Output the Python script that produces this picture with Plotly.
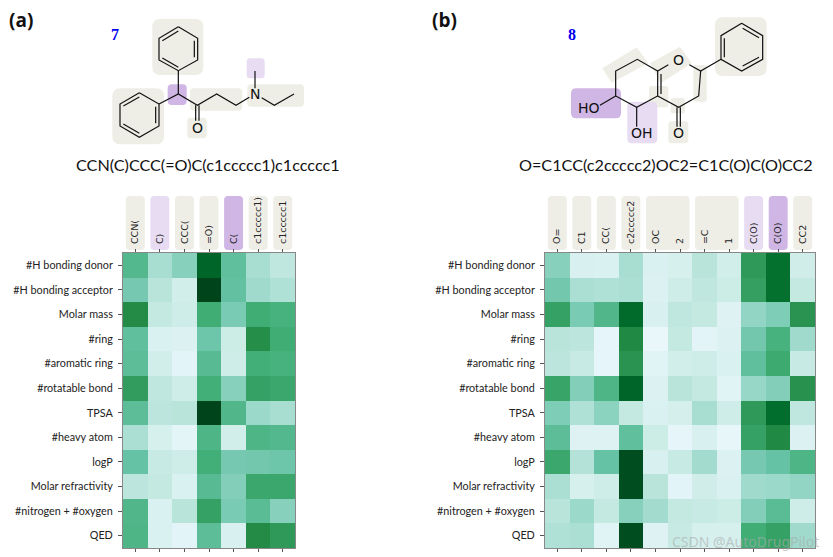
import plotly.graph_objects as go

descriptors = ["#H bonding donor", "#H bonding acceptor", "Molar mass", "#ring", "#aromatic ring",
               "#rotatable bond", "TPSA", "#heavy atom", "logP", "Molar refractivity",
               "#nitrogen + #oxygen", "QED"]
tokens_a = ["CCN(", "C)", "CCC(", "=O)", "C(", "c1ccccc1)", "c1ccccc1"]
tokens_b = ["O=", "C1", "CC(", "c2ccccc2", "OC", "2", "=C", "1", "C(O)", "C(O)", "CC2"]

values_a = [
    [.56, .34, .42, .90, .52, .34, .28],
    [.46, .30, .22, 1.0, .51, .36, .32],
    [.75, .27, .24, .63, .45, .63, .60],
    [.52, .18, .17, .48, .25, .74, .63],
    [.53, .22, .14, .55, .24, .62, .60],
    [.69, .28, .24, .62, .42, .67, .65],
    [.53, .29, .30, 1.0, .57, .37, .34],
    [.33, .20, .13, .58, .22, .58, .56],
    [.50, .26, .24, .62, .46, .47, .48],
    [.29, .27, .18, .55, .43, .65, .65],
    [.57, .18, .30, .67, .45, .54, .42],
    [.58, .18, .14, .53, .19, .75, .70],
]
values_b = [
    [.42, .19, .18, .34, .18, .20, .30, .22, .70, .86, .23],
    [.47, .33, .32, .33, .17, .24, .28, .25, .68, .86, .27],
    [.67, .45, .57, .88, .19, .28, .27, .16, .39, .44, .72],
    [.30, .29, .12, .76, .10, .27, .14, .17, .47, .60, .36],
    [.29, .26, .12, .72, .15, .22, .24, .18, .52, .64, .26],
    [.66, .43, .58, .90, .17, .30, .27, .15, .38, .43, .73],
    [.44, .32, .41, .27, .18, .21, .34, .24, .70, .87, .28],
    [.53, .16, .16, .52, .25, .12, .19, .11, .67, .76, .17],
    [.65, .31, .50, .97, .19, .26, .35, .17, .46, .50, .58],
    [.33, .20, .24, .97, .30, .14, .23, .18, .36, .37, .39],
    [.30, .37, .27, .42, .35, .27, .26, .25, .43, .54, .24],
    [.32, .33, .15, .97, .16, .26, .20, .20, .63, .67, .36],
]

GREY, LILAC, PURPLE = "#eeeee6", "#e8dcf3", "#cfb6e4"

# token-label backgrounds: first column, last column, colour
label_boxes_a = [(0, 0, GREY), (1, 1, LILAC), (2, 2, GREY), (3, 3, GREY), (4, 4, PURPLE), (5, 5, GREY), (6, 6, GREY)]
label_boxes_b = [(0, 0, GREY), (1, 1, GREY), (2, 2, GREY), (3, 3, GREY), (4, 5, GREY), (6, 7, GREY),
                 (8, 8, LILAC), (9, 9, PURPLE), (10, 10, GREY)]

# structure drawings, sketch coordinates (3 units per screen pixel)
bonds_a = [
    [(535, 80), (593, 115), (593, 180), (535, 212), (477, 180), (477, 115), (535, 80)],
    [(487, 122), (535, 93)], [(583, 122), (583, 172)], [(487, 174), (535, 202)],
    [(418, 278), (477, 312), (477, 378), (418, 412), (360, 378), (360, 312), (418, 278)],
    [(370, 318), (418, 291)], [(467, 320), (467, 370)], [(370, 372), (418, 400)],
    [(535, 212), (535, 282)], [(477, 312), (535, 282), (592, 316), (650, 282), (708, 316), (748, 292)],
    [(587, 316), (587, 362)], [(597, 316), (597, 362)],
    [(765, 265), (765, 213)], [(785, 293), (823, 316), (882, 282)],
]
bonds_b = [
    [(965, 70), (1028, 107), (1028, 178), (965, 213), (903, 178), (903, 107), (965, 70)],
    [(968, 85), (1017, 113)], [(1017, 172), (968, 198)], [(913, 115), (913, 172)],
    [(903, 178), (842, 213), (808, 194)], [(745, 194), (713, 213), (652, 178), (587, 213), (587, 288),
                                           (650, 322), (713, 288), (713, 213)],
    [(723, 222), (723, 282)], [(713, 288), (776, 322), (836, 288), (842, 213)],
    [(771, 322), (771, 380)], [(781, 322), (781, 380)],
    [(587, 288), (540, 316)], [(650, 322), (650, 380)],
]
atoms_a = [("O", 592, 383), ("N", 765, 283)]
atoms_b = [("O", 775, 180), ("O", 776, 398), ("HO", 507, 325), ("OH", 666, 398)]
patches_a = [(457, 57, 610, 225, GREY, 24), (337, 265, 492, 433, GREY, 24), (503, 253, 560, 315, PURPLE, 12),
             (570, 265, 727, 332, GREY, 12), (562, 353, 620, 415, GREY, 10), (742, 253, 912, 320, GREY, 12),
             (740, 175, 794, 235, LILAC, 10)]
patches_b = [(885, 52, 1040, 228, GREY, 24), (820, 195, 860, 305, GREY, 6), (687, 258, 745, 322, GREY, 8),
             (752, 294, 795, 340, GREY, 8), (745, 364, 805, 430, GREY, 10), (453, 265, 603, 355, PURPLE, 16),
             (622, 305, 712, 430, LILAC, 14)]
bands_b = [[(547, 205), (650, 142), (685, 190), (575, 248)], [(690, 190), (780, 140), (815, 190), (722, 250)]]

W, H = 833, 557
PLOT_A = (123, 295)
PLOT_B = (545, 815)
TOP, BOTTOM = 253, 548
OFFSET_B = 420


def rrect(x0, y0, x1, y1, r):
    return (f"M{x0+r},{y0} L{x1-r},{y0} Q{x1},{y0} {x1},{y0+r} L{x1},{y1-r} Q{x1},{y1} {x1-r},{y1} "
            f"L{x0+r},{y1} Q{x0},{y1} {x0},{y1-r} L{x0},{y0+r} Q{x0},{y0} {x0+r},{y0} Z")


shapes = []


def add_path(path, color):
    shapes.append(dict(type="path", path=path, xref="x", yref="y", fillcolor=color,
                       line=dict(width=0), layer="below"))


for x0, y0, x1, y1, c, r in patches_a:
    add_path(rrect(x0 / 3, y0 / 3, x1 / 3, y1 / 3, r / 3), c)
for x0, y0, x1, y1, c, r in patches_b:
    add_path(rrect(x0 / 3 + OFFSET_B, y0 / 3, x1 / 3 + OFFSET_B, y1 / 3, r / 3), c)
for poly in bands_b:
    add_path("M" + " L".join(f"{x/3+OFFSET_B},{y/3}" for x, y in poly) + " Z", GREY)

for boxes, (l, r), n in ((label_boxes_a, PLOT_A, len(tokens_a)), (label_boxes_b, PLOT_B, len(tokens_b))):
    w = (r - l) / n
    for a, b, c in boxes:
        add_path(rrect(l + w * a + 2.8, 196, l + w * (b + 1) - 2.8, 250, 4), c)

fig = go.Figure()
xs, ys = [], []
for bonds, off in ((bonds_a, 0), (bonds_b, OFFSET_B)):
    for seg in bonds:
        xs += [p[0] / 3 + off for p in seg] + [None]
        ys += [p[1] / 3 for p in seg] + [None]
fig.add_trace(go.Scatter(x=xs, y=ys, mode="lines", xaxis="x", yaxis="y", hoverinfo="skip",
                         line=dict(color="#111111", width=1.2)))
for z, tokens, xa, ya in ((values_a, tokens_a, "x2", "y2"), (values_b, tokens_b, "x3", "y3")):
    fig.add_trace(go.Heatmap(z=z, x=list(range(len(tokens))), y=descriptors, xaxis=xa, yaxis=ya,
                             colorscale="BuGn", zmin=0, zmax=1, showscale=False, xgap=0, ygap=0))

annotations = []


def note(text, x, y, size, family, color="#111111", bold=False):
    if bold:
        text = f"<b>{text}</b>"
    annotations.append(dict(text=text, x=x, y=y, xref="x", yref="y", showarrow=False,
                            font=dict(size=size, family=family, color=color), xanchor="center", yanchor="middle"))


for a, x, y in atoms_a:
    note(a, x / 3, y / 3, 14, "DejaVu Sans")
for a, x, y in atoms_b:
    note(a, x / 3 + OFFSET_B, y / 3, 14, "DejaVu Sans")
note("(a)", 21, 20, 19, "Open Sans", bold=True)
note("(b)", 444, 20, 19, "Open Sans", bold=True)
note("7", 115, 34, 16, "Liberation Serif", "#0000ee", True)
note("8", 572, 34, 16, "Liberation Serif", "#0000ee", True)
note("CCN(C)CCC(=O)C(c1ccccc1)c1ccccc1", 208, 164, 16.2, "Lato")
note("O=C1CC(c2ccccc2)OC2=C1C(O)C(O)CC2", 666, 164, 16.2, "Lato")
note("CSDN @AutoDrugPilot", 745, 541, 14, "Noto Sans", "rgba(170,170,170,0.6)")


def xaxis(domain, tokens, anchor):
    return dict(domain=domain, anchor=anchor, side="top", range=[-0.5, len(tokens) - 0.5],
                tickmode="array", tickvals=list(range(len(tokens))), ticktext=tokens, tickangle=-90,
                ticks="outside", ticklen=3, tickcolor="#555", mirror="ticks", showline=True, ticklabelstandoff=3,
                linecolor="#888", linewidth=1, showgrid=False, zeroline=False,
                tickfont=dict(size=9.5, family="DejaVu Sans", color="#222"))


def yaxis(domain, anchor):
    return dict(domain=domain, anchor=anchor, autorange="reversed", ticks="outside", ticklen=4,
                tickcolor="#555", showline=True, linecolor="#888", linewidth=1, mirror=True, showgrid=False,
                zeroline=False, ticklabelstandoff=3, tickfont=dict(size=10.8, family="Lato", color="#222"))


ydom = [1 - BOTTOM / H, 1 - TOP / H]
fig.update_layout(
    width=W, height=H, margin=dict(l=0, r=0, t=0, b=0), paper_bgcolor="white", plot_bgcolor="rgba(0,0,0,0)",
    showlegend=False, shapes=shapes, annotations=annotations,
    xaxis=dict(domain=[0, 1], range=[0, W], visible=False, anchor="y", fixedrange=True),
    yaxis=dict(domain=[0, 1], range=[H, 0], visible=False, anchor="x", fixedrange=True),
    xaxis2=xaxis([PLOT_A[0] / W, PLOT_A[1] / W], tokens_a, "y2"),
    yaxis2=yaxis(ydom, "x2"),
    xaxis3=xaxis([PLOT_B[0] / W, PLOT_B[1] / W], tokens_b, "y3"),
    yaxis3=yaxis(ydom, "x3"),
)
fig.write_html("out.html", config=dict(displayModeBar=False), post_script="document.body.style.margin='0';")
